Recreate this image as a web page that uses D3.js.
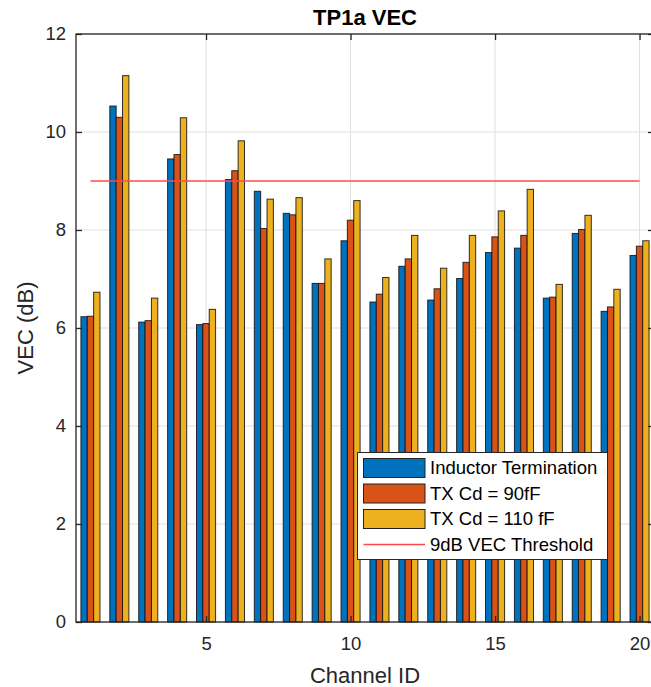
<!DOCTYPE html>
<html>
<head>
<meta charset="utf-8">
<script src="https://cdn.jsdelivr.net/npm/d3@7"></script>
<style>
  html, body { margin: 0; padding: 0; background: #fff; }
  svg { display: block; font-family: "Liberation Sans", Arial, Helvetica, sans-serif; }
</style>
</head>
<body>
<svg id="chart" width="651" height="687"></svg>
<script>
const channels = d3.range(1, 21);
const seriesNames = ["Inductor Termination", "TX Cd = 90fF", "TX Cd = 110 fF"];
const inductorTermination = [6.23, 10.53, 6.12, 9.45, 6.07, 9.03, 8.79, 8.34, 6.91, 7.78, 6.53, 7.26, 6.57, 7.01, 7.54, 7.63, 6.61, 7.93, 6.34, 7.48];
const txCd90 = [6.24, 10.30, 6.15, 9.54, 6.09, 9.21, 8.03, 8.31, 6.91, 8.20, 6.69, 7.41, 6.80, 7.34, 7.86, 7.89, 6.63, 8.01, 6.43, 7.67];
const txCd110 = [6.73, 11.15, 6.61, 10.29, 6.38, 9.82, 8.63, 8.66, 7.41, 8.60, 7.03, 7.89, 7.22, 7.89, 8.39, 8.83, 6.89, 8.30, 6.79, 7.78];
const thresholdLabel = "9dB VEC Threshold";
const threshold = 9;
const thresholdRange = [1, 20];
const xTicks = [5, 10, 15, 20];
const yTicks = [0, 2, 4, 6, 8, 10, 12];
const colors = ["#0072BD", "#D95319", "#EDB120"];

const series = [inductorTermination, txCd90, txCd110];

const svg = d3.select("#chart");
const mLeft = 76, mRight = 654, mTop = 34, mBottom = 622;

const x = d3.scaleLinear().domain([0.5, 20.5]).range([mLeft, mRight]);
const y = d3.scaleLinear().domain([0, 12]).range([mBottom, mTop]);

const axisColor = "#262626";

// grid
const grid = svg.append("g");
grid.selectAll("line.gx").data(xTicks).join("line")
  .attr("x1", d => x(d)).attr("x2", d => x(d))
  .attr("y1", mTop).attr("y2", mBottom)
  .attr("stroke", "#dfdfdf").attr("stroke-width", 1);
grid.selectAll("line.gy").data(yTicks).join("line")
  .attr("x1", mLeft).attr("x2", mRight)
  .attr("y1", d => y(d)).attr("y2", d => y(d))
  .attr("stroke", "#dfdfdf").attr("stroke-width", 1);

// bars
const off = 0.22;
const bw = 0.22;
series.forEach((vals, si) => {
  svg.append("g").selectAll("rect").data(vals).join("rect")
    .attr("x", (d, i) => x(channels[i] + (si - 1) * off - bw / 2))
    .attr("width", x(bw) - x(0))
    .attr("y", d => y(d))
    .attr("height", d => y(0) - y(d))
    .attr("fill", colors[si])
    .attr("stroke", "#111")
    .attr("stroke-opacity", 0.85)
    .attr("stroke-width", 1);
});

// threshold line
svg.append("line")
  .attr("x1", x(thresholdRange[0])).attr("x2", x(thresholdRange[1]))
  .attr("y1", y(threshold)).attr("y2", y(threshold))
  .attr("stroke", "#ff4a4a").attr("stroke-width", 1.5);

// axes box
svg.append("rect")
  .attr("x", mLeft).attr("y", mTop)
  .attr("width", mRight - mLeft).attr("height", mBottom - mTop)
  .attr("fill", "none").attr("stroke", axisColor).attr("stroke-width", 1.3);

// axes with d3 (ticks inward)
const tickLen = 6;
const xAxisB = d3.axisBottom(x).tickValues(xTicks).tickSizeInner(-tickLen).tickSizeOuter(0).tickPadding(15).tickFormat(d3.format("d"));
const gxb = svg.append("g").attr("transform", `translate(0,${mBottom})`).call(xAxisB);
const xAxisT = d3.axisTop(x).tickValues(xTicks).tickSizeInner(-tickLen).tickSizeOuter(0).tickFormat("");
const gxt = svg.append("g").attr("transform", `translate(0,${mTop})`).call(xAxisT);
const yAxisL = d3.axisLeft(y).tickValues(yTicks).tickSizeInner(-tickLen).tickSizeOuter(0).tickPadding(10).tickFormat(d3.format("d"));
const gyl = svg.append("g").attr("transform", `translate(${mLeft},0)`).call(yAxisL);
const yAxisR = d3.axisRight(y).tickValues(yTicks).tickSizeInner(-tickLen).tickSizeOuter(0).tickFormat("");
const gyr = svg.append("g").attr("transform", `translate(${mRight},0)`).call(yAxisR);

[gxb, gxt, gyl, gyr].forEach(g => {
  g.select(".domain").remove();
  g.selectAll(".tick line").attr("stroke", axisColor).attr("stroke-width", 1.3);
  g.selectAll(".tick text").attr("fill", axisColor)
    .style("font-size", "18.5px")
    .style("font-family", '"Liberation Sans", Arial, sans-serif');
});

// title
svg.append("text")
  .attr("x", (mLeft + mRight) / 2).attr("y", 25)
  .attr("text-anchor", "middle")
  .style("font-size", "22px").style("font-weight", "bold")
  .attr("fill", "#000")
  .text("TP1a VEC");

// axis labels
svg.append("text")
  .attr("x", (mLeft + mRight) / 2).attr("y", 683)
  .attr("text-anchor", "middle")
  .style("font-size", "22px").attr("fill", axisColor)
  .text("Channel ID");
svg.append("text")
  .attr("transform", `translate(33,${(mTop + mBottom) / 2}) rotate(-90)`)
  .attr("text-anchor", "middle")
  .style("font-size", "22px").attr("fill", axisColor)
  .text("VEC (dB)");

// legend
const lg = svg.append("g");
lg.append("rect")
  .attr("x", 357.5).attr("y", 452.5).attr("width", 250).attr("height", 107)
  .attr("fill", "#fff").attr("stroke", axisColor).attr("stroke-width", 1);
const rowY = [468, 493.5, 519, 544.5];
seriesNames.forEach((name, i) => {
  lg.append("rect")
    .attr("x", 363.5).attr("y", rowY[i] - 9.5).attr("width", 61.5).attr("height", 19)
    .attr("fill", colors[i]).attr("stroke", "#222").attr("stroke-width", 1);
  lg.append("text")
    .attr("x", 430).attr("y", rowY[i]).attr("dy", "0.35em")
    .style("font-size", "18.5px").attr("fill", "#000")
    .text(name);
});
lg.append("line")
  .attr("x1", 363.5).attr("x2", 425).attr("y1", rowY[3]).attr("y2", rowY[3])
  .attr("stroke", "#ff4a4a").attr("stroke-width", 1.5);
lg.append("text")
  .attr("x", 430).attr("y", rowY[3]).attr("dy", "0.35em")
  .style("font-size", "18.5px").attr("fill", "#000")
  .text(thresholdLabel);
</script>
</body>
</html>
